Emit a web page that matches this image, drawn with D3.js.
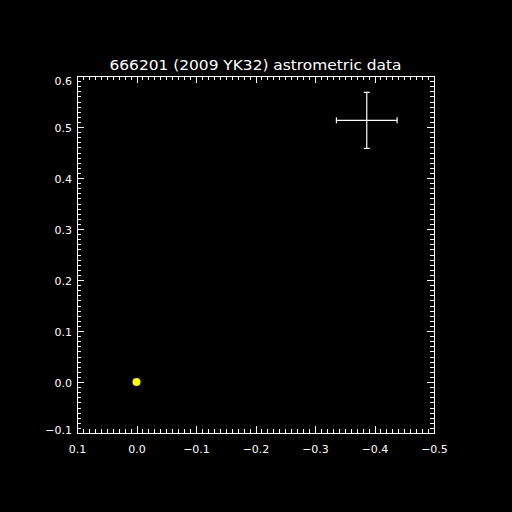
<!DOCTYPE html>
<html><head><meta charset="utf-8">
<script src="https://cdn.jsdelivr.net/npm/d3@7"></script>
<style>html,body{margin:0;padding:0;background:#000;}svg{display:block;}</style>
</head><body>
<script>
const title = "666201 (2009 YK32) astrometric data";
const xDomain = [0.1, -0.5];
const yDomain = [-0.1, 0.6];
const xTicks = [0.1, 0.0, -0.1, -0.2, -0.3, -0.4, -0.5];
const yTicks = [-0.1, 0.0, 0.1, 0.2, 0.3, 0.4, 0.5, 0.6];
const pointX = [0.0];
const pointY = [0.0];
const errCenterX = [-0.387];
const errCenterY = [0.513];
const errX = [0.051];
const errY = [0.055];

const W = 512, H = 512;
const L = 77, R = 434, T = 76, B = 433;
const svg = d3.select("body").append("svg").attr("width", W).attr("height", H)
  .style("background", "#000");
svg.append("rect").attr("width", W).attr("height", H).attr("fill", "#000");

const x = d3.scaleLinear().domain(xDomain).range([L, R]);
const y = d3.scaleLinear().domain(yDomain).range([B, T]);

const fmt = v => { const s = d3.format(".1f")(Math.abs(v) < 1e-9 ? 0 : v); return s.replace("-", "\u2212"); };
const minorX = d3.range(0, 61).map(i => 0.1 - i * 0.01);
const minorY = d3.range(0, 71).map(i => -0.1 + i * 0.01);

function styleAxis(g) {
  g.attr("shape-rendering", "crispEdges");
  g.select(".domain").attr("stroke", "#fff").attr("stroke-width", 1);
  g.selectAll(".tick line").attr("stroke", "#fff").attr("stroke-width", 1);
  g.selectAll(".tick text").attr("fill", "#fff").attr("font-family", "DejaVu Sans, sans-serif").attr("font-size", 11);
}
// bottom
svg.append("g").attr("transform", `translate(0,${B})`)
  .call(d3.axisBottom(x).tickValues(minorX).tickSize(-4).tickFormat("").tickSizeOuter(0)).call(styleAxis);
svg.append("g").attr("transform", `translate(0,${B})`)
  .call(d3.axisBottom(x).tickValues(xTicks).tickSize(-7).tickFormat(fmt).tickPadding(12).tickSizeOuter(0)).call(styleAxis);
// top
svg.append("g").attr("transform", `translate(0,${T})`)
  .call(d3.axisTop(x).tickValues(minorX).tickSize(-4).tickFormat("").tickSizeOuter(0)).call(styleAxis);
svg.append("g").attr("transform", `translate(0,${T})`)
  .call(d3.axisTop(x).tickValues(xTicks).tickSize(-7).tickFormat("").tickSizeOuter(0)).call(styleAxis);
// left
svg.append("g").attr("transform", `translate(${L},0)`)
  .call(d3.axisLeft(y).tickValues(minorY).tickSize(-4).tickFormat("").tickSizeOuter(0)).call(styleAxis);
const yAx = svg.append("g").attr("transform", `translate(${L},0)`)
  .call(d3.axisLeft(y).tickValues(yTicks).tickSize(-7).tickFormat(fmt).tickPadding(5).tickSizeOuter(0)).call(styleAxis);
yAx.selectAll(".tick text").attr("dy", d => Math.abs(d - 0.6) < 1e-9 ? "0.8em" : (Math.abs(d + 0.1) < 1e-9 ? "0.05em" : "0.4em"));
// right
svg.append("g").attr("transform", `translate(${R},0)`)
  .call(d3.axisRight(y).tickValues(minorY).tickSize(-4).tickFormat("").tickSizeOuter(0)).call(styleAxis);
svg.append("g").attr("transform", `translate(${R},0)`)
  .call(d3.axisRight(y).tickValues(yTicks).tickSize(-7).tickFormat("").tickSizeOuter(0)).call(styleAxis);

// title
svg.append("text").attr("x", (L + R) / 2).attr("y", 70).attr("text-anchor", "middle")
  .attr("fill", "#fff").attr("font-family", "DejaVu Sans, sans-serif").attr("font-size", 14)
  .attr("textLength", 292).attr("lengthAdjust", "spacingAndGlyphs").text(title);

// error cross
const cap = 3;
errCenterX.forEach((cx, i) => {
  const cy = errCenterY[i];
  const g = svg.append("g").attr("stroke", "#fff").attr("stroke-width", 1.2);
  g.append("line").attr("x1", x(cx - errX[i])).attr("x2", x(cx + errX[i])).attr("y1", y(cy)).attr("y2", y(cy));
  g.append("line").attr("x1", x(cx)).attr("x2", x(cx)).attr("y1", y(cy - errY[i])).attr("y2", y(cy + errY[i]));
  [cx - errX[i], cx + errX[i]].forEach(v => g.append("line").attr("x1", x(v)).attr("x2", x(v)).attr("y1", y(cy) - cap).attr("y2", y(cy) + cap));
  [cy - errY[i], cy + errY[i]].forEach(v => g.append("line").attr("y1", y(v)).attr("y2", y(v)).attr("x1", x(cx) - cap).attr("x2", x(cx) + cap));
});

// point
svg.selectAll("circle.pt").data(pointX).enter().append("circle").attr("class", "pt")
  .attr("cx", d => x(d)).attr("cy", (d, i) => y(pointY[i])).attr("r", 4).attr("fill", "#ffff00");
</script>
</body></html>
